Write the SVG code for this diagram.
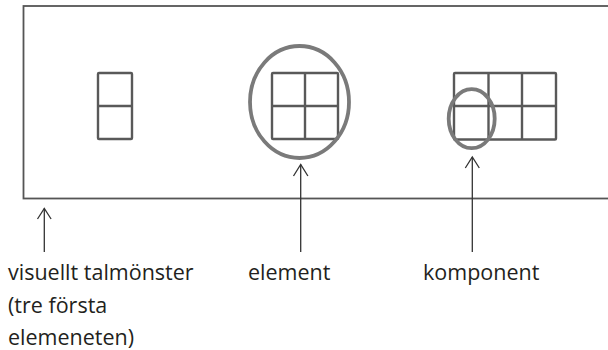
<svg xmlns="http://www.w3.org/2000/svg" width="608" height="350" viewBox="0 0 608 350">
<style>
.frame{fill:none;stroke:#555;stroke-width:1.8}
.grid{fill:none;stroke:#595959;stroke-width:2.4;stroke-linejoin:round}
.ring{fill:none;stroke:#7a7a7a;stroke-width:3.8}
.conn{fill:none;stroke:#333;stroke-width:1.3}
.head{fill:none;stroke:#333;stroke-width:1.3;stroke-linejoin:miter}
.lbl{font-family:"Open Sans","Noto Sans",sans-serif;font-size:21.5px;fill:#231f20}
</style>
<rect width="608" height="350" fill="#fff"/>
<g id="frame"><rect class="frame" x="23.5" y="6" width="600" height="192.5"/></g>
<g id="pattern1">
<rect class="grid" x="98" y="73" width="34" height="66" rx="1"/>
<line class="grid" x1="98" y1="106" x2="132" y2="106"/>
</g>
<g id="pattern2">
<rect class="grid" x="272" y="73" width="66" height="66" rx="1"/>
<line class="grid" x1="305" y1="73" x2="305" y2="139"/>
<line class="grid" x1="272" y1="106" x2="338" y2="106"/>
<ellipse class="ring" cx="299.5" cy="102" rx="49.5" ry="56"/>
</g>
<g id="pattern3">
<rect class="grid" x="454" y="73" width="102" height="66.5" rx="1"/>
<line class="grid" x1="488.5" y1="73" x2="488.5" y2="139.5"/>
<line class="grid" x1="522" y1="73" x2="522" y2="139.5"/>
<line class="grid" x1="454" y1="106" x2="556" y2="106"/>
<ellipse class="ring" cx="471.7" cy="118.7" rx="23" ry="29.5"/>
</g>
<g id="connectors">
<line class="conn" x1="44.3" y1="208.5" x2="44.3" y2="252"/>
<polyline class="head" points="37.5,219 44.3,208.5 51.1,219"/>
<line class="conn" x1="300.7" y1="164.5" x2="300.7" y2="252"/>
<polyline class="head" points="293.5,176 300.7,164.5 307.9,176"/>
<line class="conn" x1="472.3" y1="157" x2="472.3" y2="252"/>
<polyline class="head" points="465.3,168 472.3,157 479.3,168"/>
</g>
<g id="label-pattern">
<text class="lbl" x="8" y="280">visuellt talmönster</text>
<text class="lbl" x="8" y="312.5">(tre första</text>
<text class="lbl" x="8" y="345">elemeneten)</text>
</g>
<g id="label-element"><text class="lbl" x="248" y="280">element</text></g>
<g id="label-komponent"><text class="lbl" x="423" y="280">komponent</text></g>
</svg>
